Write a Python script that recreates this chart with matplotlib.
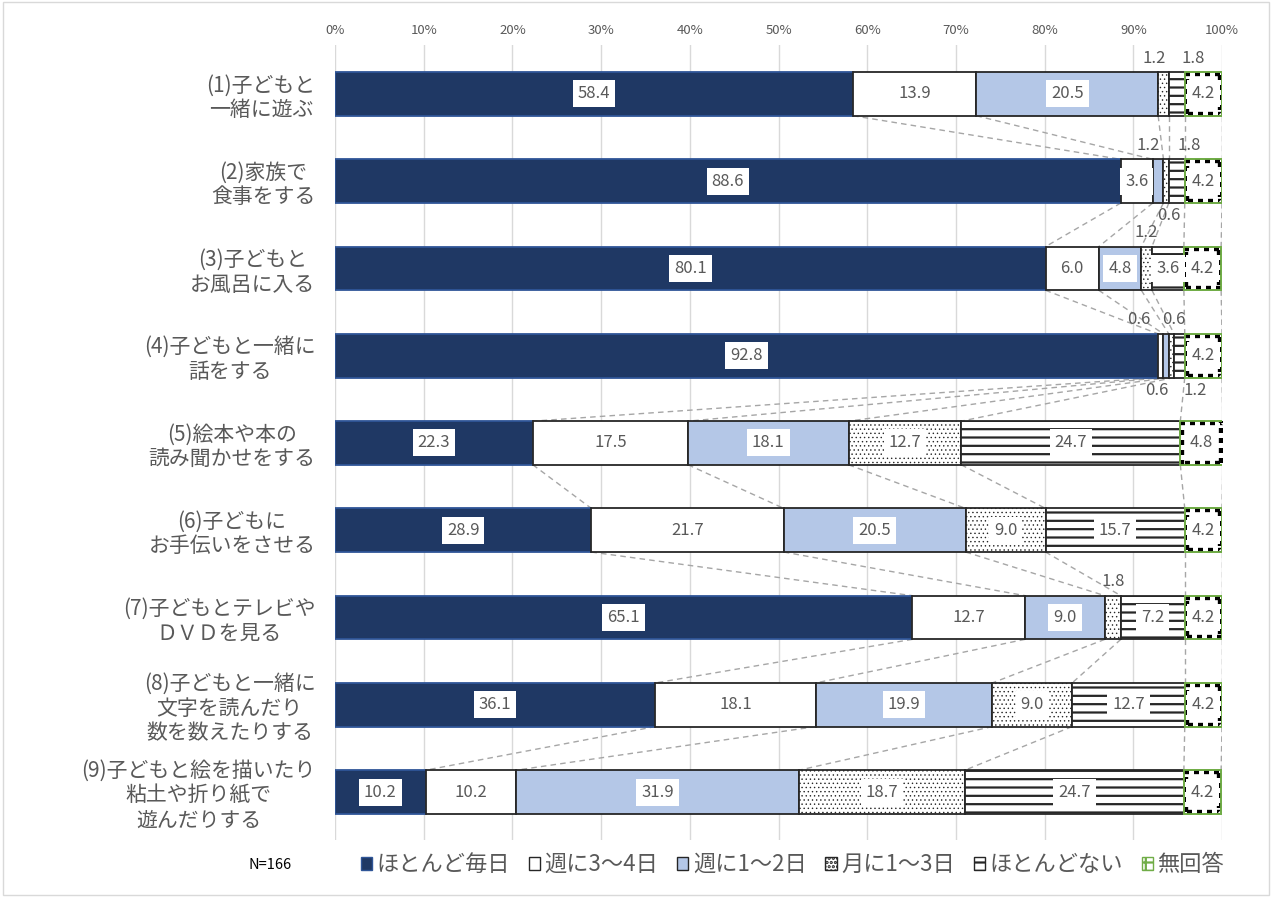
import numpy as np
import matplotlib
matplotlib.use("Agg")
import matplotlib.pyplot as plt
from matplotlib.patches import Patch, Rectangle

plt.rcParams['font.family'] = ['Noto Sans CJK JP', 'DejaVu Sans']
plt.rcParams['hatch.color'] = 'black'
plt.rcParams['hatch.linewidth'] = 1.6

categories = [
    "(1)子どもと\n一緒に遊ぶ",
    "(2)家族で\n食事をする",
    "(3)子どもと\nお風呂に入る",
    "(4)子どもと一緒に\n話をする",
    "(5)絵本や本の\n読み聞かせをする",
    "(6)子どもに\nお手伝いをさせる",
    "(7)子どもとテレビや\nＤＶＤを見る",
    "(8)子どもと一緒に\n文字を読んだり\n数を数えたりする",
    "(9)子どもと絵を描いたり\n粘土や折り紙で\n遊んだりする",
]
series = ["ほとんど毎日", "週に3～4日", "週に1～2日", "月に1～3日", "ほとんどない", "無回答"]

mainichi = [58.4, 88.6, 80.1, 92.8, 22.3, 28.9, 65.1, 36.1, 10.2]
shu34 = [13.9, 3.6, 6.0, 0.6, 17.5, 21.7, 12.7, 18.1, 10.2]
shu12 = [20.5, 1.2, 4.8, 0.6, 18.1, 20.5, 9.0, 19.9, 31.9]
tsuki13 = [1.2, 0.6, 1.2, 0.6, 12.7, 9.0, 1.8, 9.0, 18.7]
hotondo_nai = [1.8, 1.8, 3.6, 1.2, 24.7, 15.7, 7.2, 12.7, 24.7]
mukaito = [4.2, 4.2, 4.2, 4.2, 4.8, 4.2, 4.2, 4.2, 4.2]

data = np.array([mainichi, shu34, shu12, tsuki13, hotondo_nai, mukaito])

# styles per series
faces = ['#1F3864', 'white', '#B4C7E7', 'white', 'white', 'white']
edges = ['#2F5597', '#262626', '#262626', '#262626', '#262626', '#70AD47']
hatches = [None, None, None, '....', '--', None]
hatch_lw = [1.6, 1.6, 1.6, 0.5, 1.6, 1.6]

# placement of the small labels: (above/below, x offset in points)
small_pos = {
    (0, 3): ('a', -7), (0, 4): ('a', 12),
    (1, 2): ('a', -7), (1, 3): ('b', 2), (1, 4): ('a', 9),
    (2, 3): ('a', 0),
    (3, 1): ('a', -16), (3, 2): ('b', -7), (3, 3): ('a', 2), (3, 4): ('b', 11),
    (6, 3): ('a', 0),
}

gray = '#595959'
fig = plt.figure(figsize=(12.72, 8.97), dpi=100)
ax = fig.add_axes([0.2634, 0.0635, 0.6973, 0.8863])

y = np.arange(len(categories))
h = 0.5
left = np.zeros(len(categories))
cums = [np.zeros(len(categories))]
for k in range(len(series)):
    vals = data[k]
    with plt.rc_context({'hatch.linewidth': hatch_lw[k]}):
        bars = ax.barh(y, vals, height=h, left=left, color=faces[k], edgecolor=edges[k],
                       linewidth=1.3, hatch=hatches[k], zorder=3, label=series[k])
    if k == 5:
        for b in bars:
            fr = ax.barh(b.get_y() + h / 2, b.get_width(), height=h, left=b.get_x(),
                         fill=False, edgecolor='black', linewidth=6,
                         linestyle=(0, (0.6, 0.6)), zorder=4)
            fr[0].set_clip_path(b)
            ax.barh(b.get_y() + h / 2, b.get_width(), height=h, left=b.get_x(),
                    fill=False, edgecolor='#70AD47', linewidth=1.3, zorder=5)
    for i, v in enumerate(vals):
        cx = left[i] + v / 2
        txt = f"{v:.1f}"
        if (i, k) in small_pos:
            side, dx = small_pos[(i, k)]
            if side == 'a':
                ax.annotate(txt, xy=(cx, i - h / 2), xytext=(dx, 10), textcoords='offset points',
                            ha='center', va='center', fontsize=12, color=gray, zorder=6)
            else:
                ax.annotate(txt, xy=(cx, i + h / 2), xytext=(dx, -9), textcoords='offset points',
                            ha='center', va='center', fontsize=12, color=gray, zorder=6)
        else:
            ax.text(cx, i, txt, ha='center', va='center', fontsize=12, color=gray, zorder=6,
                    bbox=dict(boxstyle='square,pad=0.3', fc='white', ec='none'))
    left = left + vals
    cums.append(left.copy())

# series lines between bars
for c in cums[1:]:
    for i in range(len(categories) - 1):
        ax.plot([c[i], c[i + 1]], [i + h / 2, i + 1 - h / 2], color='#A6A6A6',
                linestyle=(0, (4, 3)), linewidth=1, zorder=2)

ax.set_xlim(0, 100)
ax.set_ylim(len(categories) - 0.45, -0.56)
ax.set_xticks(np.arange(0, 101, 10))
ax.set_xticklabels([f"{t}%" for t in range(0, 101, 10)])
ax.xaxis.tick_top()
ax.tick_params(axis='x', length=0, labelsize=9.5, labelcolor=gray, pad=6)
ax.set_yticks(y)
ax.set_yticklabels(categories, fontsize=15, color=gray, multialignment='center', linespacing=1.15)
ax.tick_params(axis='y', length=0, pad=14)
ax.grid(axis='x', color='#D9D9D9', linewidth=1, zorder=0)
ax.set_axisbelow(True)
for s in ax.spines.values():
    s.set_visible(False)

handles = []
for k in range(len(series)):
    with plt.rc_context({'hatch.linewidth': hatch_lw[k]}):
        handles.append(Patch(facecolor=faces[k], edgecolor=('black' if k == 5 else edges[k]),
                             hatch=hatches[k], label=series[k]))
handles[5] = Patch(facecolor='white', edgecolor='#70AD47', hatch='++', label=series[5])
fig.legend(handles=handles, loc='center', bbox_to_anchor=(0.623, 0.036), ncol=6,
           frameon=False, fontsize=16, handlelength=0.5, handleheight=0.5,
           handletextpad=0.2, columnspacing=0.85, labelcolor=gray)
fig.text(0.195, 0.036, "N=166", fontsize=10.5, color='black', va='center')

fig.patches.append(Rectangle((0.002, 0.002), 0.996, 0.996, transform=fig.transFigure,
                             fill=False, edgecolor='#D9D9D9', linewidth=1))

fig.savefig("out.png", dpi=100)
